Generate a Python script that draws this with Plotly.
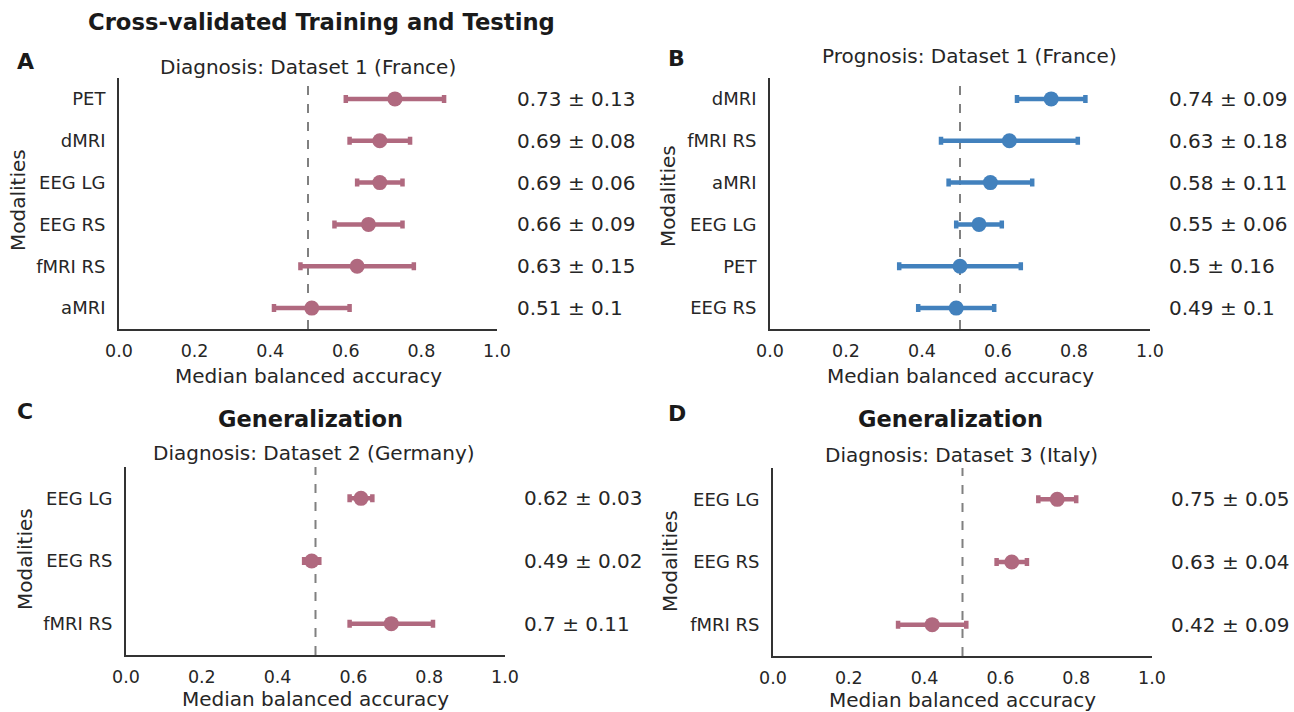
import plotly.graph_objects as go

W, H = 1294, 712

# ---------------- data ----------------
a_modalities = ["PET", "dMRI", "EEG LG", "EEG RS", "fMRI RS", "aMRI"]
a_median = [0.73, 0.69, 0.69, 0.66, 0.63, 0.51]
a_std = [0.13, 0.08, 0.06, 0.09, 0.15, 0.10]

b_modalities = ["dMRI", "fMRI RS", "aMRI", "EEG LG", "PET", "EEG RS"]
b_median = [0.74, 0.63, 0.58, 0.55, 0.50, 0.49]
b_std = [0.09, 0.18, 0.11, 0.06, 0.16, 0.10]

c_modalities = ["EEG LG", "EEG RS", "fMRI RS"]
c_median = [0.62, 0.49, 0.70]
c_std = [0.03, 0.02, 0.11]

d_modalities = ["EEG LG", "EEG RS", "fMRI RS"]
d_median = [0.75, 0.63, 0.42]
d_std = [0.05, 0.04, 0.09]

x_ticks = [0.0, 0.2, 0.4, 0.6, 0.8, 1.0]
chance_level = 0.5

PINK = "#b0697f"
BLUE = "#4281bd"
FONT = "DejaVu Sans"
TXT = "#262626"


def px(x):
    return x / W


def py(y):
    return 1 - y / H


panels = [
    # name, cats, med, std, color, x-domain px, y-domain px, value-text x px
    ("1", a_modalities, a_median, a_std, PINK, (119, 497), (78, 329), 515),
    ("2", b_modalities, b_median, b_std, BLUE, (770, 1150), (78, 329), 1167),
    ("3", c_modalities, c_median, c_std, PINK, (126, 505), (467, 655), 522),
    ("4", d_modalities, d_median, d_std, PINK, (773, 1152), (468, 656), 1169),
]

fig = go.Figure()
layout = dict(
    template="none",
    width=W, height=H, margin=dict(l=0, r=0, t=0, b=0, autoexpand=False),
    paper_bgcolor="white", plot_bgcolor="white", showlegend=False,
    font=dict(family=FONT, color=TXT),
)
annotations = []
shapes = []

for name, cats, med, std, color, xd, yd, tx in panels:
    xa = "x" if name == "1" else "x" + name
    ya = "y" if name == "1" else "y" + name
    fig.add_trace(go.Scatter(
        x=med, y=cats, xaxis=xa, yaxis=ya, mode="markers",
        marker=dict(color=color, size=15, line=dict(width=0)),
        error_x=dict(type="data", array=std, symmetric=True, color=color,
                     thickness=4.5, width=4),
        hoverinfo="skip",
    ))
    n = len(cats)
    layout["xaxis" + ("" if name == "1" else name)] = dict(
        domain=[px(xd[0]), px(xd[1])], anchor=ya, range=[0, 1],
        tickvals=x_ticks, ticktext=[f"{t:.1f}" for t in x_ticks],
        showgrid=False, zeroline=False, showline=True, linecolor="#333333",
        linewidth=1.8, ticks="", ticklabelstandoff=5, automargin=False,
        tickfont=dict(size=17.5, family=FONT, color=TXT),
    )
    layout["yaxis" + ("" if name == "1" else name)] = dict(
        domain=[py(yd[1]), py(yd[0])], anchor=xa, type="category",
        categoryorder="array", categoryarray=cats, range=[n - 0.5, -0.5],
        showgrid=False, zeroline=False, showline=True, linecolor="#333333",
        linewidth=1.8, ticks="", ticklabelstandoff=8, automargin=False,
        tickfont=dict(size=18, family=FONT, color=TXT),
    )
    shapes.append(dict(
        type="line", xref=xa, yref=ya + " domain", x0=chance_level, x1=chance_level,
        y0=0, y1=1, line=dict(color="#808080", width=2, dash="dash"), layer="below",
    ))
    for c, m, s in zip(cats, med, std):
        annotations.append(dict(
            x=px(tx), xref="paper", y=c, yref=ya, xanchor="left", yanchor="middle",
            text=f"{m:g} \u00b1 {s:g}", showarrow=False,
            font=dict(size=20, family=FONT, color=TXT),
        ))


def label(text, x, y, size=20, bold=False, angle=0):
    annotations.append(dict(
        x=px(x), y=py(y), xref="paper", yref="paper", xanchor="center",
        yanchor="middle", text=f"<b>{text}</b>" if bold else text,
        showarrow=False, textangle=angle,
        font=dict(size=size, family=FONT, color=TXT if not bold else "#1a1a1a"),
    ))


label("Cross-validated Training and Testing", 321, 22, 22.7, True)
label("A", 25, 61, 22, True)
label("B", 676, 59, 22, True)
label("C", 25, 411, 22, True)
label("D", 677, 413, 22, True)

label("Diagnosis: Dataset 1 (France)", 308, 67)
label("Prognosis: Dataset 1 (France)", 969, 56)
label("Generalization", 310, 419, 22.5, True)
label("Diagnosis: Dataset 2 (Germany)", 314, 453)
label("Generalization", 950, 419, 22.5, True)
label("Diagnosis: Dataset 3 (Italy)", 961, 455)

label("Modalities", 18, 200, 20, angle=-90)
label("Modalities", 668, 196, 20, angle=-90)
label("Modalities", 25, 559, 20, angle=-90)
label("Modalities", 670, 561, 20, angle=-90)

label("Median balanced accuracy", 308, 376)
label("Median balanced accuracy", 960, 376)
label("Median balanced accuracy", 315, 699)
label("Median balanced accuracy", 962, 700)

layout["annotations"] = annotations
layout["shapes"] = shapes
fig.update_layout(**layout)
fig.write_html("out.html")
